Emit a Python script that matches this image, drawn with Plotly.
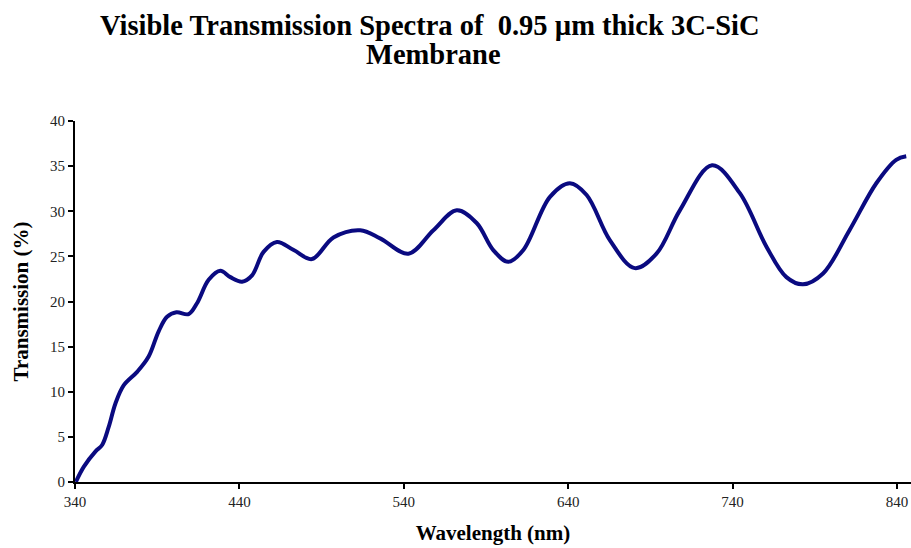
import plotly.graph_objects as go

wavelength = [340.5, 345.4, 352.5, 356.5, 360.5, 364.6, 369.6, 377.8, 384.8, 390.9, 396.0, 401.7,
              409.1, 414.2, 421.3, 428.4, 434.5, 441.6, 447.7, 454.7, 462.8, 473.0, 484.1, 497.2,
              513.5, 525.6, 542.8, 558.0, 572.2, 584.3, 594.4, 603.5, 612.7, 628.9, 641.0, 651.2,
              665.3, 680.5, 693.7, 707.9, 727.5, 744.4, 760.5, 772.7, 782.8, 795.0, 811.1, 827.4,
              839.5, 845.6]
transmission = [0.0, 1.7, 3.4, 4.1, 6.1, 8.7, 10.7, 12.2, 13.9, 16.7, 18.3, 18.8,
                18.6, 19.8, 22.4, 23.4, 22.7, 22.2, 22.9, 25.5, 26.6, 25.7, 24.7, 27.1,
                27.9, 27.0, 25.3, 27.9, 30.1, 28.7, 25.7, 24.4, 25.7, 31.6, 33.1, 31.8,
                26.8, 23.7, 25.3, 30.1, 35.1, 32.0, 26.1, 22.7, 21.9, 23.1, 27.9, 33.1,
                35.7, 36.1]
x_ticks = [340, 440, 540, 640, 740, 840]
y_ticks = [0, 5, 10, 15, 20, 25, 30, 35, 40]
title_lines = ["Visible Transmission Spectra of &nbsp;0.95 µm thick 3C-SiC", "Membrane"]

fig = go.Figure()
fig.add_trace(go.Scatter(x=wavelength, y=transmission, mode="lines",
                         line=dict(color="#0a0a80", width=4, shape="spline", smoothing=1.0),
                         showlegend=False))

serif = "Liberation Serif, Times New Roman, serif"
L, R, T, B, W, H = 75, 0, 121, 66, 911, 548
ph = H - T - B
pw = W - L - R


def px_x(px):
    return (px - L) / pw


def px_y(py):
    return (H - B - py) / ph


for text, cx, cy in zip(title_lines, [430, 433], [25, 54]):
    fig.add_annotation(text=f"<b>{text}</b>", xref="paper", yref="paper",
                       x=px_x(cx), y=px_y(cy), xanchor="center", yanchor="middle",
                       showarrow=False, font=dict(family=serif, size=28.5, color="black"))

fig.update_layout(
    width=W, height=H,
    margin=dict(l=L, r=R, t=T, b=B),
    plot_bgcolor="white", paper_bgcolor="white",
    xaxis=dict(range=[340, 848.5], tickvals=x_ticks, ticks="outside", ticklen=5, tickwidth=2,
               tickcolor="black", showline=True, linecolor="black", linewidth=2,
               showgrid=False, zeroline=False,
               tickfont=dict(family=serif, size=15, color="#222222"),
               title=dict(text="<b>Wavelength (nm)</b>", standoff=16,
                          font=dict(family=serif, size=21, color="black"))),
    yaxis=dict(range=[0, 40], tickvals=y_ticks, ticks="outside", ticklen=5, tickwidth=2,
               tickcolor="black", showline=True, linecolor="black", linewidth=2,
               showgrid=False, zeroline=False,
               tickfont=dict(family=serif, size=15, color="#222222"),
               title=dict(text="<b>Transmission (%)</b>", standoff=16,
                          font=dict(family=serif, size=21, color="black"))),
)

fig.write_html("out.html")
